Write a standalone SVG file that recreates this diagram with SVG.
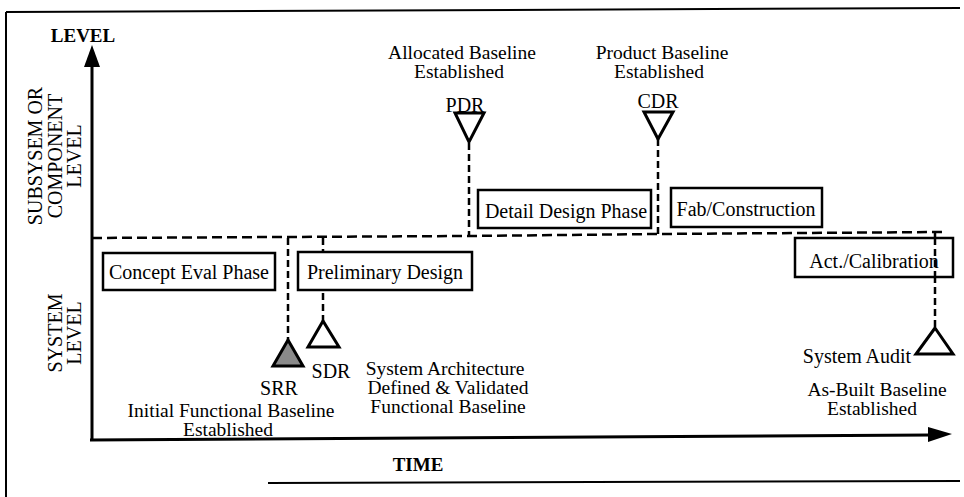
<svg xmlns="http://www.w3.org/2000/svg" width="964" height="497" viewBox="0 0 964 497">
<defs>
<style>
text{font-family:"Liberation Serif","Times New Roman",serif;font-size:19.5px;fill:#000}
.b{font-weight:bold;font-size:19px}
.r{font-size:20px}
.box{fill:#fff;stroke:#000;stroke-width:2.5}
.axis{stroke:#000;stroke-width:3;fill:none}
.hd{stroke:#000;stroke-width:2.5;stroke-dasharray:10 5;fill:none}
.vd{stroke:#000;stroke-width:2.5;stroke-dasharray:7 4;fill:none}
.tri{fill:#fff;stroke:#000;stroke-width:3;stroke-linejoin:miter}
</style>
</defs>
<rect width="964" height="497" fill="#fff"/>
<g id="frame" fill="none" stroke="#000" stroke-width="2">
<line x1="6" y1="12" x2="960" y2="8"/>
<line x1="6" y1="12" x2="6" y2="497"/>
<line x1="268" y1="483" x2="960" y2="481"/>
</g>
<g id="axes">
<line class="axis" x1="92" y1="62" x2="92" y2="441"/>
<polygon points="92,45 84,67 100,67" fill="#000"/>
<line class="axis" x1="90" y1="440" x2="932" y2="435"/>
<polygon points="952,434 928,427 928,442" fill="#000"/>
<text class="b" x="83" y="42" text-anchor="middle">LEVEL</text>
<text class="b" x="418" y="471" text-anchor="middle">TIME</text>
<g text-anchor="middle" class="r">
<text class="r" transform="translate(42,156) rotate(-90)">SUBSYSEM OR</text>
<text class="r" transform="translate(62,156) rotate(-90)">COMPONENT</text>
<text class="r" transform="translate(81,156) rotate(-90)">LEVEL</text>
<text class="r" transform="translate(62,333) rotate(-90)">SYSTEM</text>
<text class="r" transform="translate(81,333) rotate(-90)">LEVEL</text>
</g>
</g>
<g id="connectors">
<polyline class="hd" points="92,238 469,236 658,234 942,232"/>
<line class="vd" x1="288" y1="238" x2="288" y2="340"/>
<line class="vd" x1="323" y1="238" x2="323" y2="321"/>
<line class="vd" x1="469" y1="143" x2="469" y2="236"/>
<line class="vd" x1="658" y1="139" x2="658" y2="234"/>
<line class="vd" x1="935" y1="232" x2="935" y2="328"/>
</g>
<g id="concept"><rect class="box" x="103" y="253" width="172" height="37"/><text class="r" x="189" y="279" text-anchor="middle">Concept Eval Phase</text></g>
<g id="prelim"><rect class="box" x="298" y="252" width="174" height="38"/><text class="r" x="385" y="279" text-anchor="middle">Preliminary Design</text></g>
<g id="detail"><rect class="box" x="478" y="190" width="173" height="38"/><text class="r" x="566" y="218" text-anchor="middle">Detail Design Phase</text></g>
<g id="fab"><rect class="box" x="671" y="188" width="151" height="39"/><text class="r" x="746" y="216" text-anchor="middle">Fab/Construction</text></g>
<g id="act"><rect class="box" x="795" y="238" width="158" height="39"/><text class="r" x="874" y="268" text-anchor="middle">Act./Calibration</text></g>
<line class="vd" x1="935" y1="238" x2="935" y2="277"/>
<g id="pdr">
<text x="462" y="59" text-anchor="middle">Allocated Baseline</text>
<text x="459" y="78" text-anchor="middle">Established</text>
<polygon class="tri" points="455,113 484,113 469,142"/>
<text class="r" x="465" y="112" text-anchor="middle">PDR</text>
</g>
<g id="cdr">
<text x="662" y="59" text-anchor="middle">Product Baseline</text>
<text x="659" y="78" text-anchor="middle">Established</text>
<polygon class="tri" points="644,112 673,112 658,139"/>
<text class="r" x="658" y="108" text-anchor="middle">CDR</text>
</g>
<g id="srr">
<polygon points="288,340 273,366 303,366" fill="#8a8a8a" stroke="#000" stroke-width="3"/>
<text class="r" x="279" y="395" text-anchor="middle">SRR</text>
<text x="231" y="417" text-anchor="middle">Initial Functional Baseline</text>
<text x="228" y="436" text-anchor="middle">Established</text>
</g>
<g id="sdr">
<polygon class="tri" points="323,321 308,347 339,347"/>
<text class="r" x="331" y="378" text-anchor="middle">SDR</text>
<text x="445" y="375" text-anchor="middle">System Architecture</text>
<text x="448" y="394" text-anchor="middle">Defined &amp; Validated</text>
<text x="448" y="413" text-anchor="middle">Functional Baseline</text>
</g>
<g id="audit">
<polygon class="tri" points="935,328 916,354 953,354"/>
<text class="r" x="857" y="363" text-anchor="middle">System Audit</text>
<text x="877" y="396" text-anchor="middle">As-Built Baseline</text>
<text x="872" y="415" text-anchor="middle">Established</text>
</g>
</svg>
